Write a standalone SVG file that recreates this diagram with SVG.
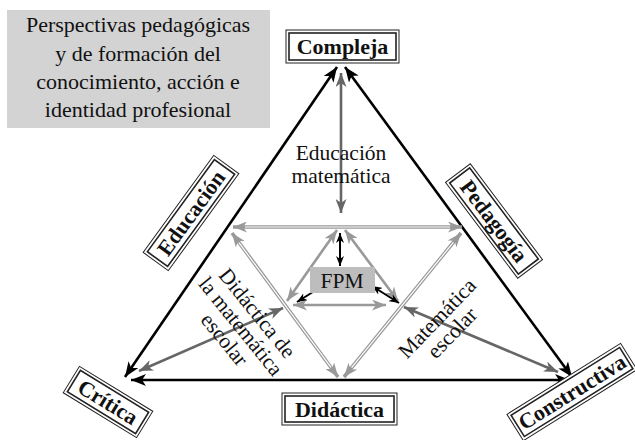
<svg xmlns="http://www.w3.org/2000/svg" width="635" height="440" viewBox="0 0 635 440">
<style>
text{font-family:"Liberation Serif","Times New Roman",serif;fill:#111}
.lbl{font-weight:bold;font-size:22px;text-anchor:middle}
.t{font-size:21.5px;text-anchor:middle}
.tt{font-size:22px;text-anchor:middle}
.bo{fill:#fff;stroke:#222;stroke-width:1}
.bi{fill:none;stroke:#222;stroke-width:1.6}
.blk{stroke:#000;stroke-width:2.6;fill:none;marker-start:url(#mB);marker-end:url(#mB)}
.dg{stroke:#666;stroke-width:2.6;fill:none;marker-start:url(#mD);marker-end:url(#mD)}
.lg{stroke:#999;stroke-width:3.6;fill:none;marker-start:url(#mL);marker-end:url(#mL)}
.lgw{stroke:#fff;stroke-width:1.2;fill:none}
.lgs{stroke:#999;stroke-width:2.6;fill:none;marker-start:url(#mL);marker-end:url(#mL)}
.sb{stroke:#000;stroke-width:2;fill:none;marker-start:url(#mS);marker-end:url(#mS)}
</style>
<defs>
<marker id="mB" markerUnits="userSpaceOnUse" markerWidth="15" markerHeight="12" refX="15" refY="6" orient="auto-start-reverse"><path d="M0,0 L15,6 L0,12 L4,6 z" fill="#000"/></marker>
<marker id="mD" markerUnits="userSpaceOnUse" markerWidth="14" markerHeight="11" refX="14" refY="5.5" orient="auto-start-reverse"><path d="M0,0 L14,5.5 L0,11 L4,5.5 z" fill="#666"/></marker>
<marker id="mL" markerUnits="userSpaceOnUse" markerWidth="14" markerHeight="11" refX="14" refY="5.5" orient="auto-start-reverse"><path d="M0,0 L14,5.5 L0,11 L4,5.5 z" fill="#999"/></marker>
<marker id="mS" markerUnits="userSpaceOnUse" markerWidth="10" markerHeight="8" refX="10" refY="4" orient="auto-start-reverse"><path d="M0,0 L10,4 L0,8 L3,4 z" fill="#000"/></marker>
</defs>

<g id="title">
<rect x="7" y="10" width="263" height="118" fill="#d3d3d3"/>
<text class="tt" x="138" y="32">Perspectivas pedagógicas</text>
<text class="tt" x="138" y="61">y de formación del</text>
<text class="tt" x="138" y="89">conocimiento, acción e</text>
<text class="tt" x="138" y="117">identidad profesional</text>
</g>

<g id="connectors">
<line class="blk" x1="337" y1="67" x2="125" y2="377"/>
<line class="blk" x1="345" y1="67" x2="572" y2="377"/>
<line class="blk" x1="131" y1="380" x2="570" y2="380"/>
<line class="dg" x1="341" y1="73" x2="341" y2="213"/>
<line class="lg" x1="233" y1="227" x2="462" y2="227"/>
<line class="lgw" x1="245" y1="227" x2="450" y2="227"/>
<line class="lg" x1="232" y1="233" x2="338" y2="377"/>
<line class="lgw" x1="239" y1="242.7" x2="331" y2="367.3"/>
<line class="lg" x1="461" y1="233" x2="344" y2="377"/>
<line class="lgw" x1="453.4" y1="242.3" x2="351.6" y2="367.7"/>
<line class="lgs" x1="337" y1="230" x2="287" y2="301"/>
<line class="lgs" x1="345" y1="230" x2="398" y2="301"/>
<line class="lgs" x1="293" y1="305" x2="386" y2="305"/>
<line class="sb" x1="340" y1="233" x2="340" y2="266"/>
<line class="sb" x1="324" y1="285" x2="297" y2="302"/>
<line class="sb" x1="372" y1="286" x2="399" y2="303"/>
<line class="dg" x1="139" y1="371" x2="283" y2="308"/>
<line class="dg" x1="404" y1="307" x2="558" y2="372"/>
</g>

<g id="fpm">
<rect x="310" y="267" width="65" height="26" fill="#bdbdbd"/>
<text class="t" x="342" y="288">FPM</text>
</g>

<g id="educacion-matematica">
<text class="t" x="341" y="160">Educación</text>
<text class="t" x="341" y="183">matemática</text>
</g>

<g id="didactica-matematica-escolar" transform="translate(240,327) rotate(51)">
<text class="t" x="0" y="-15">Didáctica de</text>
<text class="t" x="0" y="6">la matemática</text>
<text class="t" x="0" y="27">escolar</text>
</g>

<g id="matematica-escolar" transform="translate(445,326) rotate(-46)">
<text class="t" x="0" y="-4">Matemática</text>
<text class="t" x="0" y="17">escolar</text>
</g>

<g id="compleja">
<rect class="bo" x="286" y="30" width="113" height="33"/>
<rect class="bi" x="289" y="33" width="107" height="27"/>
<text class="lbl" x="342.5" y="54">Compleja</text>
</g>

<g id="didactica">
<rect class="bo" x="282" y="393" width="115" height="32"/>
<rect class="bi" x="285" y="396" width="109" height="26"/>
<text class="lbl" x="339.5" y="416.5">Didáctica</text>
</g>

<g id="educacion" transform="translate(191,213) rotate(-54)">
<rect class="bo" x="-60" y="-15.5" width="120" height="31"/>
<rect class="bi" x="-57" y="-12.5" width="114" height="25"/>
<text class="lbl" x="0" y="7.5">Educación</text>
</g>

<g id="pedagogia" transform="translate(494,221) rotate(53)">
<rect class="bo" x="-60" y="-15.5" width="120" height="31"/>
<rect class="bi" x="-57" y="-12.5" width="114" height="25"/>
<text class="lbl" x="0" y="7.5">Pedagogía</text>
</g>

<g id="critica" transform="translate(108,402) rotate(31.5)">
<rect class="bo" x="-43" y="-15.5" width="86" height="31"/>
<rect class="bi" x="-40" y="-12.5" width="80" height="25"/>
<text class="lbl" x="0" y="7.5">Crítica</text>
</g>

<g id="constructiva" transform="translate(572,392) rotate(-32)">
<rect class="bo" x="-67" y="-15.5" width="134" height="31"/>
<rect class="bi" x="-64" y="-12.5" width="128" height="25"/>
<text class="lbl" x="0" y="7.5">Constructiva</text>
</g>
</svg>
